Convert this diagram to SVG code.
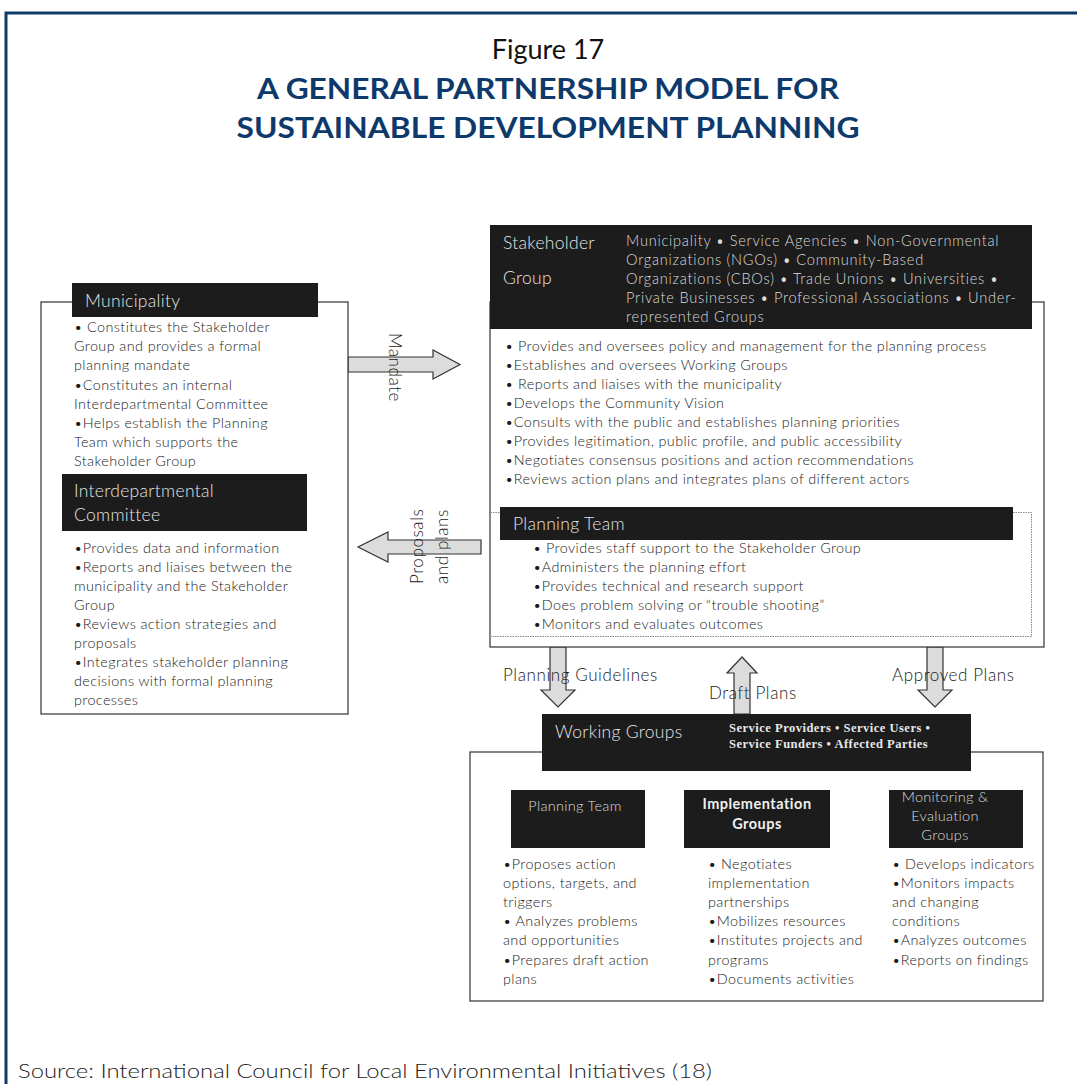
<svg xmlns="http://www.w3.org/2000/svg" width="1077" height="1084" viewBox="0 0 1077 1084">
<style>
.t{font-family:Lato,"Open Sans","DejaVu Sans",sans-serif;}
.b{font-family:Lato,"Open Sans","DejaVu Sans",sans-serif;font-size:14.4px;font-weight:300;letter-spacing:0.4px;fill:#1a1a1a;}
.h{font-family:Lato,"Open Sans","DejaVu Sans",sans-serif;font-size:17.5px;font-weight:300;letter-spacing:0.3px;fill:#e4e4e4;}
.hs{font-family:Lato,"Open Sans","DejaVu Sans",sans-serif;font-size:14.6px;font-weight:300;letter-spacing:0.75px;fill:#dadada;}
.dk{fill:#1c1c1c;}
.box{fill:#fff;stroke:#333;stroke-width:1.2;}
.arr{fill:#dcdcdc;stroke:#333;stroke-width:1.2;stroke-linejoin:miter;}
.lbl{font-family:Lato,"Open Sans","DejaVu Sans",sans-serif;font-size:17px;font-weight:300;letter-spacing:0.6px;fill:#1a1a1a;}
</style>
<rect width="1077" height="1084" fill="#fff"/>
<path d="M6 1084 V13 H1077" fill="none" stroke="#0b3a6b" stroke-width="3"/>
<g id="title">
<text class="t" x="548" y="59" text-anchor="middle" font-size="27" fill="#111">Figure 17</text>
<text class="t" x="548" y="99" text-anchor="middle" font-size="29" font-weight="bold" fill="#0d3a6b" textLength="582" lengthAdjust="spacingAndGlyphs">A GENERAL PARTNERSHIP MODEL FOR</text>
<text class="t" x="548" y="138" text-anchor="middle" font-size="29" font-weight="bold" fill="#0d3a6b" textLength="623" lengthAdjust="spacingAndGlyphs">SUSTAINABLE DEVELOPMENT PLANNING</text>
</g>
<g id="connectors">
<path class="arr" d="M348 357 H433 V350 L460 364.5 L433 379 V372 H348 Z"/>
<text class="lbl" transform="translate(389 333) rotate(90)">Mandate</text>
<path class="arr" d="M481 540 H388 V532 L358 547 L388 562 V554 H481 Z"/>
<text class="lbl" transform="translate(423 584) rotate(-90)">Proposals</text>
<text class="lbl" transform="translate(448 584) rotate(-90)">and plans</text>
<path class="arr" d="M550 647 V690 H541 L558 707 L575 690 H566 V647 Z"/>
<text class="lbl" x="503" y="681">Planning Guidelines</text>
<path class="arr" d="M734 714 V673 H727 L742 657 L757 673 H750 V714 Z"/>
<text class="lbl" x="709" y="699">Draft Plans</text>
<path class="arr" d="M927 647 V690 H918 L935 707 L952 690 H943 V647 Z"/>
<text class="lbl" x="892" y="681">Approved Plans</text>
</g>
<g id="municipality">
<rect class="box" x="41" y="302" width="307" height="412"/>
<rect class="dk" x="72" y="283" width="246" height="34"/>
<text class="h" x="85" y="307">Municipality</text>
<text class="b" x="74" y="332">• Constitutes the Stakeholder</text>
<text class="b" x="74" y="351">Group and provides a formal</text>
<text class="b" x="74" y="370">planning mandate</text>
<text class="b" x="74" y="390">•Constitutes an internal</text>
<text class="b" x="74" y="409">Interdepartmental Committee</text>
<text class="b" x="74" y="428">•Helps establish the Planning</text>
<text class="b" x="74" y="447">Team which supports the</text>
<text class="b" x="74" y="466">Stakeholder Group</text>
</g>
<g id="interdepartmental">
<rect class="dk" x="62" y="474" width="245" height="57"/>
<text class="h" x="74" y="497">Interdepartmental</text>
<text class="h" x="74" y="521">Committee</text>
<text class="b" x="74" y="553">•Provides data and information</text>
<text class="b" x="74" y="572">•Reports and liaises between the</text>
<text class="b" x="74" y="591">municipality and the Stakeholder</text>
<text class="b" x="74" y="610">Group</text>
<text class="b" x="74" y="629">•Reviews action strategies and</text>
<text class="b" x="74" y="648">proposals</text>
<text class="b" x="74" y="667">•Integrates stakeholder planning</text>
<text class="b" x="74" y="686">decisions with formal planning</text>
<text class="b" x="74" y="705">processes</text>
</g>
<g id="stakeholder">
<rect class="box" x="490" y="302" width="554" height="345"/>
<rect class="dk" x="490" y="225" width="542" height="104"/>
<text class="h" x="503" y="249">Stakeholder</text>
<text class="h" x="503" y="284">Group</text>
<text class="hs" x="626" y="246">Municipality • Service Agencies • Non-Governmental</text>
<text class="hs" x="626" y="265">Organizations (NGOs) • Community-Based</text>
<text class="hs" x="626" y="284">Organizations (CBOs) • Trade Unions • Universities •</text>
<text class="hs" x="626" y="303">Private Businesses • Professional Associations • Under-</text>
<text class="hs" x="626" y="322">represented Groups</text>
<text class="b" x="505" y="351">• Provides and oversees policy and management for the planning process</text>
<text class="b" x="505" y="370">•Establishes and oversees Working Groups</text>
<text class="b" x="505" y="389">• Reports and liaises with the municipality</text>
<text class="b" x="505" y="408">•Develops the Community Vision</text>
<text class="b" x="505" y="427">•Consults with the public and establishes planning priorities</text>
<text class="b" x="505" y="446">•Provides legitimation, public profile, and public accessibility</text>
<text class="b" x="505" y="465">•Negotiates consensus positions and action recommendations</text>
<text class="b" x="505" y="484">•Reviews action plans and integrates plans of different actors</text>
</g>
<g id="planning-team">
<rect x="490.5" y="512.5" width="541" height="124" fill="none" stroke="#888" stroke-width="1" stroke-dasharray="1.5 1"/>
<rect class="dk" x="500" y="507" width="513" height="33"/>
<text class="h" x="513" y="530">Planning Team</text>
<text class="b" x="533" y="553">• Provides staff support to the Stakeholder Group</text>
<text class="b" x="533" y="572">•Administers the planning effort</text>
<text class="b" x="533" y="591">•Provides technical and research support</text>
<text class="b" x="533" y="610">•Does problem solving or “trouble shooting”</text>
<text class="b" x="533" y="629">•Monitors and evaluates outcomes</text>
</g>
<g id="working-groups">
<rect class="box" x="470" y="752" width="573" height="249"/>
<rect class="dk" x="542" y="714" width="429" height="57"/>
<text class="h" x="555" y="738">Working Groups</text>
<text x="729" y="732" font-family="'Liberation Serif',serif" font-size="12.5" font-weight="bold" letter-spacing="0.5" fill="#e8e8e8">Service Providers • Service Users •</text>
<text x="729" y="748" font-family="'Liberation Serif',serif" font-size="12.5" font-weight="bold" letter-spacing="0.5" fill="#e8e8e8">Service Funders • Affected Parties</text>
</g>
<g id="wg-planning-team">
<rect class="dk" x="511" y="790" width="134" height="58"/>
<text class="t" x="575" y="811" text-anchor="middle" font-size="14.5" font-weight="300" letter-spacing="0.3" fill="#dadada">Planning Team</text>
<text class="b" x="503" y="869">•Proposes action</text>
<text class="b" x="503" y="888">options, targets, and</text>
<text class="b" x="503" y="907">triggers</text>
<text class="b" x="503" y="926">• Analyzes problems</text>
<text class="b" x="503" y="945">and opportunities</text>
<text class="b" x="503" y="965">•Prepares draft action</text>
<text class="b" x="503" y="984">plans</text>
</g>
<g id="wg-implementation">
<rect class="dk" x="684" y="790" width="146" height="58"/>
<text class="t" x="757" y="809" text-anchor="middle" font-size="14.5" font-weight="bold" letter-spacing="0.5" fill="#f0f0f0">Implementation</text>
<text class="t" x="757" y="829" text-anchor="middle" font-size="14.5" font-weight="bold" letter-spacing="0.5" fill="#f0f0f0">Groups</text>
<text class="b" x="708" y="869">• Negotiates</text>
<text class="b" x="708" y="888">implementation</text>
<text class="b" x="708" y="907">partnerships</text>
<text class="b" x="708" y="926">•Mobilizes resources</text>
<text class="b" x="708" y="945">•Institutes projects and</text>
<text class="b" x="708" y="965">programs</text>
<text class="b" x="708" y="984">•Documents activities</text>
</g>
<g id="wg-monitoring">
<rect class="dk" x="889" y="790" width="134" height="58"/>
<text class="t" x="945" y="802" text-anchor="middle" font-size="14.5" font-weight="300" letter-spacing="0.3" fill="#dadada">Monitoring &amp;</text>
<text class="t" x="945" y="821" text-anchor="middle" font-size="14.5" font-weight="300" letter-spacing="0.3" fill="#dadada">Evaluation</text>
<text class="t" x="945" y="840" text-anchor="middle" font-size="14.5" font-weight="300" letter-spacing="0.3" fill="#dadada">Groups</text>
<text class="b" x="892" y="869">• Develops indicators</text>
<text class="b" x="892" y="888">•Monitors impacts</text>
<text class="b" x="892" y="907">and changing</text>
<text class="b" x="892" y="926">conditions</text>
<text class="b" x="892" y="945">•Analyzes outcomes</text>
<text class="b" x="892" y="965">•Reports on findings</text>
</g>
<text class="t" x="18" y="1078" font-size="20" font-weight="300" fill="#222" textLength="694" lengthAdjust="spacingAndGlyphs">Source: International Council for Local Environmental Initiatives (18)</text>
</svg>
